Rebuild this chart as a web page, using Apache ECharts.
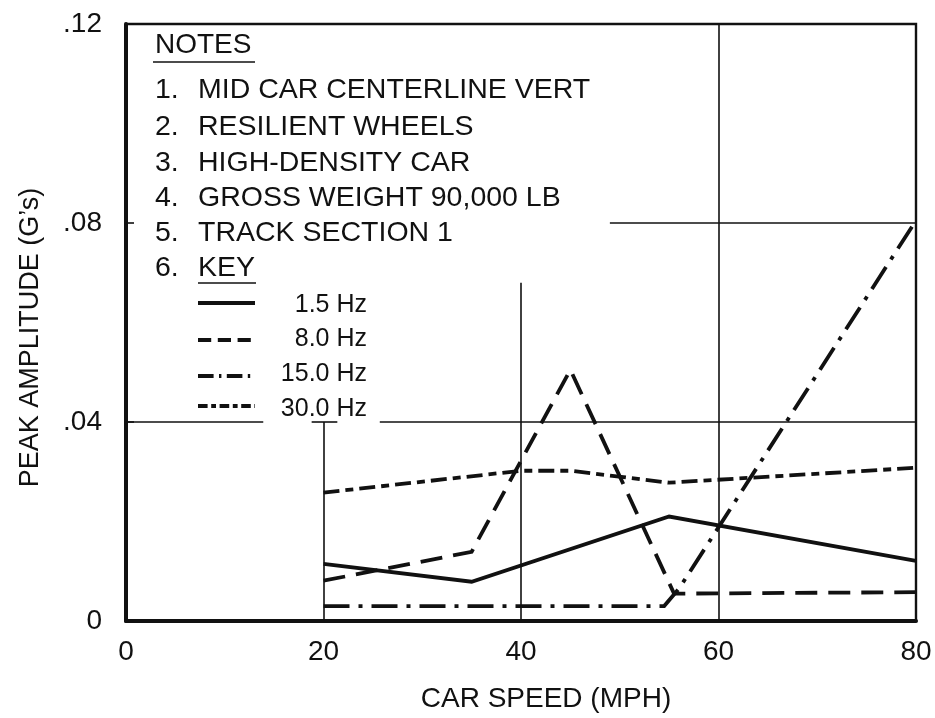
<!DOCTYPE html>
<html>
<head>
<meta charset="utf-8">
<script src="https://cdn.jsdelivr.net/npm/echarts@6/dist/echarts.min.js"></script>
<style>
  html, body { margin: 0; padding: 0; background: #ffffff; }
  #chart { width: 935px; height: 718px; }
</style>
</head>
<body>
<div id="chart"></div>
<script>
// Peak vertical acceleration vs. car speed, one series per frequency band
const seriesNames = ['1.5 Hz', '8.0 Hz', '15.0 Hz', '30.0 Hz'];
const hz1_5  = [[20, 0.0115], [35, 0.0079], [55, 0.0210], [80, 0.0121]];
const hz8_0  = [[20, 0.0081], [35, 0.0139], [45, 0.0505], [55.5, 0.0055], [80, 0.0058]];
const hz15_0 = [[20, 0.0030], [54.5, 0.0030], [56, 0.0065], [80, 0.0805]];
const hz30_0 = [[20, 0.0258], [40, 0.0302], [45, 0.0302], [55, 0.0278], [80, 0.0308]];

// Axis ticks
const xTicks = [0, 20, 40, 60, 80];
const yTicks = [0, 0.04, 0.08, 0.12];

// Partial grid lines (the notes block sits over the upper left of the plot)
const gridSegments = [
  [[20, 0], [20, 0.04]],
  [[18.8, 0.04], [21.4, 0.04]],
  [[40, 0], [40, 0.068]],
  [[60, 0], [60, 0.12]],
  [[0, 0.04], [13.9, 0.04]],
  [[25.7, 0.04], [80, 0.04]],
  [[49, 0.08], [80, 0.08]]
];

// Notes block text
const notesTitle = 'NOTES';
const noteItems = [
  ['1.', 'MID CAR CENTERLINE VERT'],
  ['2.', 'RESILIENT WHEELS'],
  ['3.', 'HIGH-DENSITY CAR'],
  ['4.', 'GROSS WEIGHT 90,000 LB'],
  ['5.', 'TRACK SECTION 1'],
  ['6.', 'KEY']
];

const INK = '#111111';
const FONT = '"Liberation Sans", Arial, Helvetica, sans-serif';
const LINE_W = 3.8;

const chart = echarts.init(document.getElementById('chart'), null, { renderer: 'canvas' });

const dashStyles = [
  'solid',
  [22, 11],
  [26, 9, 4, 9],
  [16, 6, 8, 6]
];
const dataSets = [hz1_5, hz8_0, hz15_0, hz30_0];

const series = dataSets.map((d, i) => ({
  name: seriesNames[i],
  type: 'line',
  data: d,
  symbol: 'none',
  smooth: false,
  animation: false,
  lineStyle: { color: INK, width: LINE_W, type: dashStyles[i], cap: 'butt', join: 'miter' },
  itemStyle: { color: INK },
  z: 3
}));

// Grid segments drawn through the axes as mark lines
series.push({
  name: '__grid',
  type: 'line',
  data: [],
  silent: true,
  animation: false,
  markLine: {
    silent: true,
    symbol: ['none', 'none'],
    label: { show: false },
    lineStyle: { color: INK, width: 1.6, type: 'solid' },
    emphasis: { disabled: true },
    data: gridSegments.map(s => [{ coord: s[0] }, { coord: s[1] }])
  },
  z: 2
});

// Notes block graphics
const graphics = [];
graphics.push({
  type: 'text', left: 155, top: 31,
  style: { text: notesTitle, font: '28px ' + FONT, fill: INK }
});
graphics.push({
  type: 'line', shape: { x1: 153, y1: 62, x2: 255, y2: 62 },
  style: { stroke: INK, lineWidth: 1.6 }
});
const rowY = [90, 127, 163, 198, 233, 268];
noteItems.forEach((row, i) => {
  graphics.push({
    type: 'text', x: 155, y: rowY[i],
    style: { text: row[0], font: '28.5px ' + FONT, fill: INK, verticalAlign: 'middle' }
  });
  graphics.push({
    type: 'text', x: 198, y: rowY[i],
    style: { text: row[1], font: '28.5px ' + FONT, fill: INK, verticalAlign: 'middle' }
  });
});
graphics.push({
  type: 'line', shape: { x1: 198, y1: 283, x2: 256, y2: 283 },
  style: { stroke: INK, lineWidth: 1.6 }
});

// Key: line sample followed by a right-aligned frequency label
const keySampleY = [303, 340, 376, 406];
const keyTextY = [305, 339, 374, 409];
seriesNames.forEach((name, i) => {
  graphics.push({
    type: 'line',
    shape: { x1: 198, y1: keySampleY[i], x2: 255, y2: keySampleY[i] },
    style: {
      stroke: INK, lineWidth: LINE_W, lineCap: 'butt',
      lineDash: dashStyles[i] === 'solid' ? null : dashStyles[i].map(v => v * 0.6)
    }
  });
  graphics.push({
    type: 'text', x: 367, y: keyTextY[i],
    style: { text: name, font: '25px ' + FONT, fill: INK, align: 'right', verticalAlign: 'middle' }
  });
});

chart.setOption({
  backgroundColor: '#ffffff',
  animation: false,
  textStyle: { fontFamily: FONT, color: INK },
  grid: {
    left: 126, right: 19, top: 24, bottom: 97,
    show: true, borderColor: INK, borderWidth: 2.4,
    containLabel: false, outerBoundsMode: 'none'
  },
  xAxis: {
    type: 'value', min: 0, max: 80, interval: 20,
    name: 'CAR SPEED (MPH)', nameLocation: 'middle', nameGap: 64,
    nameTextStyle: { fontSize: 28, color: INK, fontFamily: FONT, padding: [0, 0, 0, 50] },
    axisLine: { show: true, onZero: false, lineStyle: { color: INK, width: 4 } },
    axisTick: { show: false },
    splitLine: { show: false },
    axisLabel: {
      margin: 17, fontSize: 28, color: INK, fontFamily: FONT,
      formatter: v => (xTicks.indexOf(v) >= 0 ? String(v) : '')
    }
  },
  yAxis: {
    type: 'value', min: 0, max: 0.12, interval: 0.04,
    name: 'PEAK AMPLITUDE (G\u2019s)', nameLocation: 'middle', nameGap: 82, nameRotate: 90,
    nameTextStyle: { fontSize: 27, color: INK, fontFamily: FONT, padding: [0, 30, 0, 0] },
    axisLine: { show: true, onZero: false, lineStyle: { color: INK, width: 4 } },
    axisTick: { show: true, inside: true, length: 8, lineStyle: { color: INK, width: 1.6 } },
    splitLine: { show: false },
    axisLabel: {
      margin: 24, fontSize: 28, color: INK, fontFamily: FONT,
      formatter: v => {
        const t = yTicks.find(k => Math.abs(k - v) < 1e-9);
        if (t === undefined) return '';
        return t === 0 ? '0' : t.toFixed(2).replace(/^0/, '');
      }
    }
  },
  graphic: graphics,
  series: series
});
</script>
</body>
</html>
